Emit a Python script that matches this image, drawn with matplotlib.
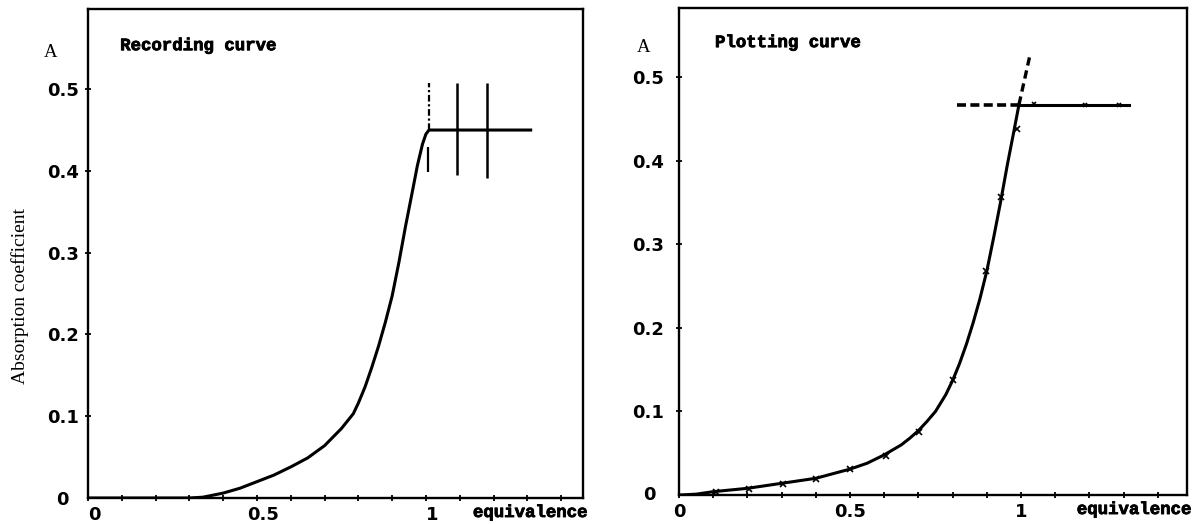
import numpy as np
import matplotlib.pyplot as plt
import matplotlib.patheffects as pe
from matplotlib.transforms import ScaledTranslation

# Recording curve (left panel)
rec_x = [0.0, 0.1, 0.2, 0.3, 0.34, 0.4, 0.45, 0.5, 0.55, 0.6, 0.65, 0.7, 0.75,
         0.785, 0.80, 0.82, 0.84, 0.86, 0.88, 0.90, 0.92, 0.94, 0.96, 0.975,
         0.99, 1.0, 1.009, 1.31]
rec_y = [0.0, 0.0, 0.0, 0.0, 0.001, 0.006, 0.012, 0.02, 0.028, 0.038, 0.049, 0.064, 0.085,
         0.103, 0.116, 0.136, 0.16, 0.186, 0.215, 0.247, 0.288, 0.333, 0.375, 0.407,
         0.433, 0.445, 0.45, 0.45]
# vertical marks on the plateau: x, y bottom, y top
rec_marks_x = [1.009, 1.092, 1.18]
rec_marks_lo = [0.399, 0.395, 0.391]
rec_marks_hi = [0.507, 0.507, 0.507]

# Plotting curve (right panel): measured points and drawn curve
pts_x = [0.107, 0.204, 0.303, 0.40, 0.50, 0.604, 0.702, 0.80, 0.899, 0.942, 0.988]
pts_y = [0.004, 0.007, 0.013, 0.019, 0.031, 0.047, 0.075, 0.137, 0.268, 0.356, 0.438]
plat_x = [1.038, 1.187, 1.287]
plat_y = [0.468, 0.466, 0.466]
fit_x = [0.0, 0.05, 0.1, 0.2, 0.3, 0.4, 0.5, 0.55, 0.6, 0.65, 0.675, 0.7, 0.725, 0.75,
         0.78, 0.8, 0.82, 0.84, 0.86, 0.88, 0.9, 0.92, 0.94, 0.96, 0.98, 0.994]
fit_y = [0.0, 0.001, 0.004, 0.008, 0.014, 0.02, 0.031, 0.038, 0.048, 0.06, 0.068, 0.077, 0.088, 0.1,
         0.12, 0.137, 0.157, 0.18, 0.206, 0.235, 0.268, 0.308, 0.35, 0.395, 0.437, 0.467]
ext_x = [0.994, 1.026]
ext_y = [0.467, 0.526]
eq_level = 0.467
eq_dash_x = [0.813, 0.994]
eq_line_x = [0.994, 1.316]

x_ticks = [round(0.1 * i, 1) for i in range(15)]
x_labels = {0.0: '0', 0.5: '0.5', 1.0: '1'}
y_ticks = [0.1, 0.2, 0.3, 0.4, 0.5]
y_labels = ['0.1', '0.2', '0.3', '0.4', '0.5']

mono = 'Liberation Mono'
digits = 'DejaVu Sans'
serif = 'Liberation Serif'
heavy = [pe.withStroke(linewidth=0.6, foreground='black')]

fig = plt.figure(figsize=(11.97, 5.24), dpi=100)
ax1 = fig.add_axes([0.0735, 0.0496, 0.4136, 0.9332])
ax2 = fig.add_axes([0.5672, 0.0553, 0.4244, 0.9294])


def style(ax, xmax, ymax, ypad, xshift, title, ty):
    ax.set_xlim(0, xmax)
    ax.set_ylim(0, ymax)
    for s in ax.spines.values():
        s.set_linewidth(1.7)
    ax.set_xticks(x_ticks)
    ax.set_xticklabels([x_labels.get(t, '') for t in x_ticks])
    ax.set_yticks(y_ticks)
    ax.set_yticklabels(y_labels)
    ax.tick_params(direction='inout', length=5, width=1.3)
    ax.tick_params(axis='x', pad=3)
    ax.tick_params(axis='y', pad=ypad)
    for lab in ax.get_xticklabels() + ax.get_yticklabels():
        lab.set_fontfamily(digits)
        lab.set_fontweight('bold')
        lab.set_fontsize(13)
    if xshift:
        for lab in ax.get_xticklabels():
            lab.set_transform(lab.get_transform() + ScaledTranslation(xshift / 100, 0, fig.dpi_scale_trans))
    ax.text(ty[0], ty[1], title, transform=ax.transAxes, family=mono, weight='bold',
            fontsize=12.5, va='center', ha='left', path_effects=heavy)
    ax.annotate('equivalence', xy=(1, 0), xycoords='axes fraction', xytext=(4, -7),
                textcoords='offset pixels', ha='right', va='top', family=mono,
                weight='bold', fontsize=12.5, path_effects=heavy)


style(ax1, 1.465, 0.598, 4.0, 6, 'Recording curve', (0.065, 0.925))
style(ax2, 1.485, 0.5825, 8.0, 0, 'Plotting curve', (0.071, 0.929))

ax1.annotate('0', xy=(0, 0), xycoords='axes fraction', xytext=(-26, -2),
             textcoords='offset pixels', ha='center', va='center', family=digits,
             weight='bold', fontsize=13)
ax2.annotate('0', xy=(0, 0), xycoords='axes fraction', xytext=(-30, 0),
             textcoords='offset pixels', ha='center', va='center', family=digits,
             weight='bold', fontsize=13)
ax1.text(-0.075, 0.912, 'A', transform=ax1.transAxes, family=serif, fontsize=13.5,
         ha='center', va='center')
ax2.text(-0.069, 0.918, 'A', transform=ax2.transAxes, family=serif, fontsize=13.5,
         ha='center', va='center')
ax1.set_ylabel('Absorption coefficient', family=serif, fontsize=14)
ax1.yaxis.set_label_coords(-0.119, 0.413)

# left panel
ax1.plot(rec_x, rec_y, color='black', lw=2.2, solid_joinstyle='round')
ax1.vlines(rec_marks_x[0], 0.45, rec_marks_hi[0], color='black', lw=1.6,
           linestyles=(0, (3, 1.2, 1, 1.2)))
ax1.vlines(rec_marks_x[0] - 0.004, rec_marks_lo[0], 0.429, color='black', lw=1.6)
ax1.vlines(rec_marks_x[1:], rec_marks_lo[1:], rec_marks_hi[1:], color='black', lw=1.8)

# right panel
ax2.plot(fit_x, fit_y, color='black', lw=2.2, solid_joinstyle='round')
ax2.plot(ext_x, ext_y, color='black', lw=2.4, linestyle=(0, (2.5, 1.5)))
ax2.plot(eq_dash_x, [eq_level, eq_level], color='black', lw=2.6, linestyle=(0, (2.5, 1.2)))
ax2.plot(eq_line_x, [eq_level, eq_level], color='black', lw=2.2)
ax2.plot(pts_x, pts_y, linestyle='none', marker='x', ms=4, mew=1.2, color='black')
ax2.plot(plat_x, plat_y, linestyle='none', marker='x', ms=3.5, mew=1.2, color='black')

fig.savefig('out.png', dpi=100)
